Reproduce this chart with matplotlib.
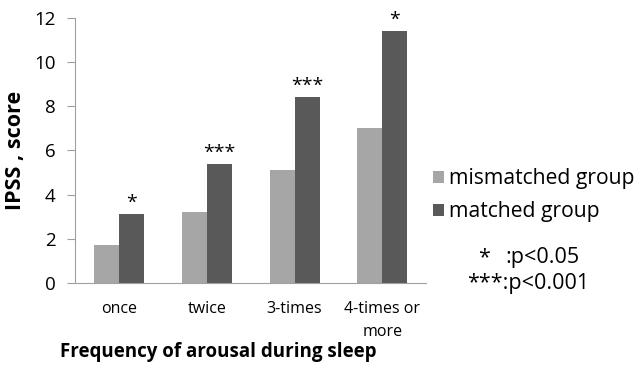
import numpy as np
import matplotlib.pyplot as plt

plt.rcParams['font.family'] = ['Open Sans', 'DejaVu Sans']

categories = ['once', 'twice', '3-times', '4-times or\nmore']
mismatched = [1.7, 3.2, 5.1, 7.0]
matched = [3.1, 5.4, 8.4, 11.4]
stars = ['*', '***', '***', '*']

light = '#a6a6a6'
dark = '#595959'

fig = plt.figure(figsize=(6.42, 3.75), dpi=100)
ax = fig.add_axes([0.117, 0.246, 0.547, 0.706])

x = np.arange(len(categories))
w = 0.285
ax.bar(x - w / 2, mismatched, w, color=light, label='mismatched group')
ax.bar(x + w / 2, matched, w, color=dark, label='matched group')
for xi, v, s in zip(x, matched, stars):
    ax.text(xi + w / 2, v + 0.1, s, ha='center', va='bottom', fontsize=14)

ax.set_xlim(-0.5, len(categories) - 0.5)
ax.set_ylim(0, 12)
ax.set_yticks(range(0, 13, 2))
ax.set_xticks(x)
ax.set_xticklabels(categories, fontsize=11.5, linespacing=1.6)
ax.tick_params(axis='x', length=0, pad=13)
ax.tick_params(axis='y', labelsize=13.5, length=6, color='#a0a0a0', pad=8)
for side in ['top', 'right']:
    ax.spines[side].set_visible(False)
for side in ['left', 'bottom']:
    ax.spines[side].set_color('#a0a0a0')

ax.set_ylabel('IPSS , score', fontsize=15.5, fontweight='bold', labelpad=6)
fig.text(218 / 642, 1 - 352 / 375, 'Frequency of arousal during sleep',
         fontsize=13.5, fontweight='bold', ha='center', va='center')

ax.legend(loc='center left', bbox_to_anchor=(1.02, 0.33), frameon=False, fontsize=15.2,
          handlelength=0.5, handleheight=0.5, handletextpad=0.25, labelspacing=0.57,
          borderaxespad=0, borderpad=0)

fig.text(478 / 642, 1 - 258 / 375, '*', fontsize=15.5, ha='left', va='center')
fig.text(505 / 642, 1 - 258 / 375, ':p<0.05', fontsize=15.5, ha='left', va='center')
fig.text(467 / 642, 1 - 283 / 375, '***:p<0.001', fontsize=15.5, ha='left', va='center')

fig.savefig('out.png', dpi=100)
